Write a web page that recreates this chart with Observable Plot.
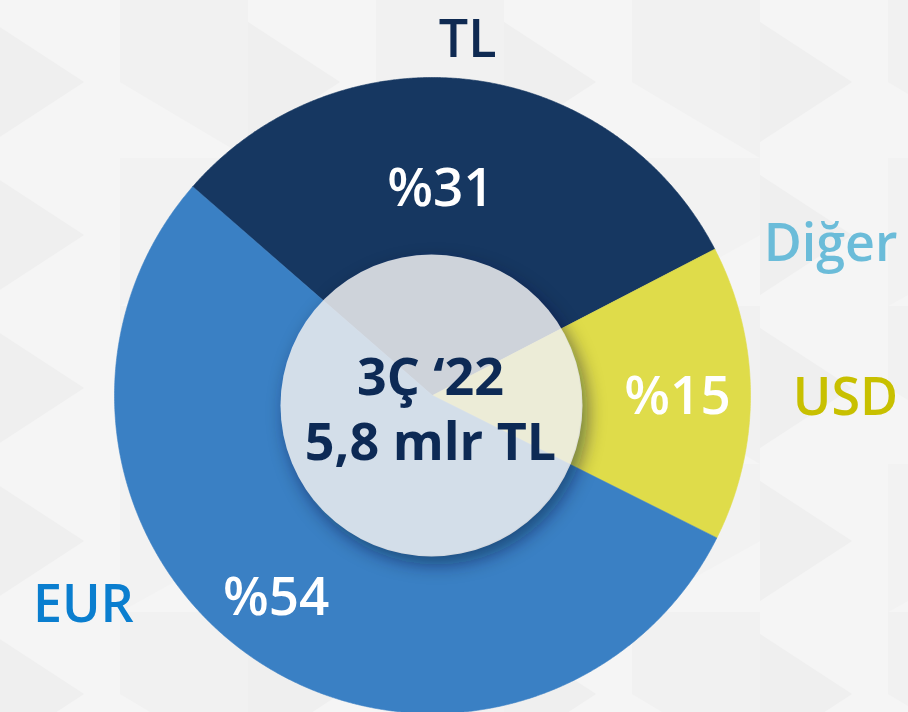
<!DOCTYPE html>
<html><head><meta charset="utf-8">
<script src="https://cdn.jsdelivr.net/npm/d3@7"></script>
<script src="https://cdn.jsdelivr.net/npm/@observablehq/plot@0.6"></script>
<style>
html,body{margin:0;padding:0;background-color:#f3f3f3;}
body{
  background-image:url("data:image/svg+xml;utf8,<svg xmlns='http://www.w3.org/2000/svg' width='256' height='306'><rect width='256' height='306' fill='%23f5f5f5'/><path d='M0 22 L92 82 L0 142 Z M0 175 L92 235 L0 295 Z' fill='%23efefef'/><path d='M128 0 L128 82 L256 0 Z M128 82 L256 158 L256 0 Z' fill='%23f1f1f1'/><path d='M128 158 L256 235 L256 158 Z M128 158 L128 306 L256 235 Z' fill='%23f2f2f2'/></svg>");
  background-position:-8px 0;
}
#chart{width:908px;height:712px;overflow:hidden;position:relative;}
#chart svg{display:block;}
</style></head><body><div id="chart"></div>
<script>
// ---- data ----
const categories = ["TL", "Diğer", "USD", "EUR"];
const shares = [31, 0, 15, 54];
const shareLabels = ["%31", "", "%15", "%54"];
const centerLines = ["3Ç ‘22", "5,8 mlr TL"];

// ---- styles / layout ----
const sliceColors = ["#163761", "#6bbcd9", "#dfdc4a", "#3a80c4"];
const labelColors = ["#0f2a52", "#6bbcd9", "#c8c000", "#0a7ecf"];
const W = 908, H = 712;
const cx = 432, cy = 395, R = 318;           // pie
const icx = 431, icy = 405, ir = 151;        // inner disc
const pctLayout = [[209, -4.6], [0, 0], [245, 0.4], [254, 4.2]];        // [radius, angle shift°]
const outerLayout = [[360, -1.2], [427, 6.2], [413, 0.4], [406, 25.5]]; // [radius, angle shift°]
const deg = Math.PI / 180;

const pie = d3.pie().sort(null).startAngle(-49 * deg).endAngle(311 * deg);
const arcs = pie(shares);

const slicePts = [];
arcs.forEach((a, i) => {
  const span = a.endAngle - a.startAngle;
  if (span <= 0) return;
  const k = categories[i], c = sliceColors[i];
  slicePts.push({k, c, x: cx, y: cy});
  const n = Math.max(2, Math.ceil(span / 0.005));
  for (let j = 0; j <= n; j++) {
    const t = a.startAngle + span * j / n;
    slicePts.push({k, c, x: cx + R * Math.sin(t), y: cy - R * Math.cos(t)});
  }
});

const mid = a => (a.startAngle + a.endAngle) / 2;
const polar = (a, r, shift) => {
  const t = mid(a) + shift * deg;
  return [cx + r * Math.sin(t), cy - r * Math.cos(t)];
};

const pctData = arcs.map((a, i) => {
  const [x, y] = polar(a, pctLayout[i][0], pctLayout[i][1]);
  return {x, y, text: shareLabels[i], v: a.value};
}).filter(d => d.v > 0);

const outerData = arcs.map((a, i) => {
  const [x, y] = polar(a, outerLayout[i][0], outerLayout[i][1]);
  return {x, y, text: categories[i], c: labelColors[i]};
});

const centerData = centerLines.map((t, i) => ({text: t, i}));

const font = "'Open Sans', 'Noto Sans', sans-serif";

const chart = Plot.plot({
  width: W, height: H, margin: 0,
  x: {domain: [0, W], range: [0, W], axis: null},
  y: {domain: [0, H], range: [0, H], axis: null},
  color: {type: "identity"},
  style: {background: "transparent", fontFamily: font, overflow: "visible"},
  marks: [
    Plot.line(slicePts, {x: "x", y: "y", z: "k", fill: "c", stroke: "c", strokeWidth: 0.6, curve: "linear-closed"}),
    Plot.dot([0], {x: () => icx + 5, y: () => icy + 8, r: ir, fill: "#081a36", fillOpacity: 0.5, stroke: "none", ariaDescription: "shadow"}),
    Plot.dot([0], {x: () => icx, y: () => icy, r: ir, fill: "#eeeef0", fillOpacity: 0.85, stroke: "none"}),
    Plot.text(pctData, {x: "x", y: "y", text: "text", fill: "white", fontSize: 53, fontWeight: 600, dy: 2}),
    Plot.text(outerData, {x: "x", y: "y", text: "text", fill: "c", fontSize: 52, fontWeight: 600, dy: 3}),
    Plot.text(centerData, {x: () => icx - 1, y: d => icy - 29 + d.i * 65, text: "text", fill: "#0d2a55", fontSize: 52, fontWeight: 700, dy: 2})
  ]
});

// soft shadow (blurred, only outside the inner disc)
const ns = "http://www.w3.org/2000/svg";
const defs = document.createElementNS(ns, "defs");
defs.innerHTML =
  '<filter id="softShadow" x="-40%" y="-40%" width="180%" height="180%"><feGaussianBlur stdDeviation="9"/></filter>' +
  '<mask id="outsideDisc" maskUnits="userSpaceOnUse" x="0" y="0" width="' + W + '" height="' + H + '">' +
  '<rect x="0" y="0" width="' + W + '" height="' + H + '" fill="white"/>' +
  '<circle cx="' + icx + '" cy="' + icy + '" r="' + (ir - 0.5) + '" fill="black"/></mask>';
chart.insertBefore(defs, chart.firstChild);
const sh = chart.querySelector('g[aria-description="shadow"]');
if (sh) {
  const wrap = document.createElementNS(ns, "g");
  wrap.setAttribute("mask", "url(#outsideDisc)");
  sh.parentNode.insertBefore(wrap, sh);
  wrap.appendChild(sh);
  sh.setAttribute("filter", "url(#softShadow)");
}

document.getElementById("chart").appendChild(chart);
</script>
</body></html>
